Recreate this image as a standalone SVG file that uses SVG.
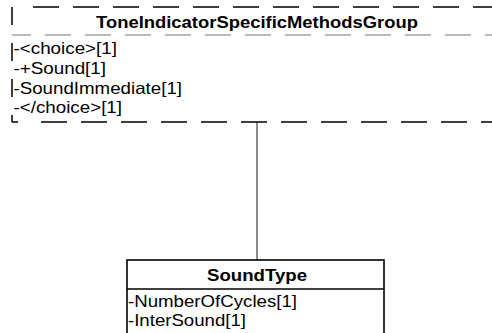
<svg xmlns="http://www.w3.org/2000/svg" width="492" height="333" viewBox="0 0 492 333">
<style>
text { font-family: "Liberation Sans", Arial, sans-serif; font-size: 16.5px; fill: #000; }
.title { font-weight: bold; font-size: 16.5px; }
.dash { stroke: #000; stroke-width: 1.5; fill: none; stroke-dasharray: 26 14; }
.sep { stroke: #777; stroke-width: 1; fill: none; stroke-dasharray: 26 14; }
.box { stroke: #000; stroke-width: 1.6; fill: #fff; }
.conn { stroke: #666; stroke-width: 1.5; fill: none; }
</style>
<g id="connectors">
<line class="conn" x1="257" y1="122" x2="257" y2="260"/>
</g>
<g id="ToneIndicatorSpecificMethodsGroup">
<line class="dash" x1="33" y1="7" x2="502" y2="7"/>
<line class="dash" x1="12" y1="7" x2="12" y2="122" style="stroke-dasharray:18 18"/>
<line class="dash" x1="12" y1="122" x2="18" y2="122" style="stroke-dasharray:none"/>
<line class="dash" x1="41" y1="122" x2="502" y2="122"/>
<line class="sep" x1="12" y1="35" x2="502" y2="35" style="stroke-dashoffset:7"/>
<text class="title" x="96" y="27.5" textLength="322" lengthAdjust="spacingAndGlyphs">ToneIndicatorSpecificMethodsGroup</text>
<text x="13.5" y="54" textLength="103.5" lengthAdjust="spacingAndGlyphs">-&lt;choice&gt;[1]</text>
<text x="13.5" y="74" textLength="92.5" lengthAdjust="spacingAndGlyphs">-+Sound[1]</text>
<text x="13.5" y="93.5" textLength="168.5" lengthAdjust="spacingAndGlyphs">-SoundImmediate[1]</text>
<text x="13.5" y="113" textLength="108.5" lengthAdjust="spacingAndGlyphs">-&lt;/choice&gt;[1]</text>
</g>
<g id="SoundType">
<rect class="box" x="127" y="260" width="257" height="90"/>
<line class="box" x1="127" y1="289" x2="384" y2="289"/>
<text class="title" x="207" y="281" textLength="100" lengthAdjust="spacingAndGlyphs">SoundType</text>
<text x="128" y="307" textLength="169" lengthAdjust="spacingAndGlyphs">-NumberOfCycles[1]</text>
<text x="128" y="326" textLength="118" lengthAdjust="spacingAndGlyphs">-InterSound[1]</text>
</g>
</svg>
